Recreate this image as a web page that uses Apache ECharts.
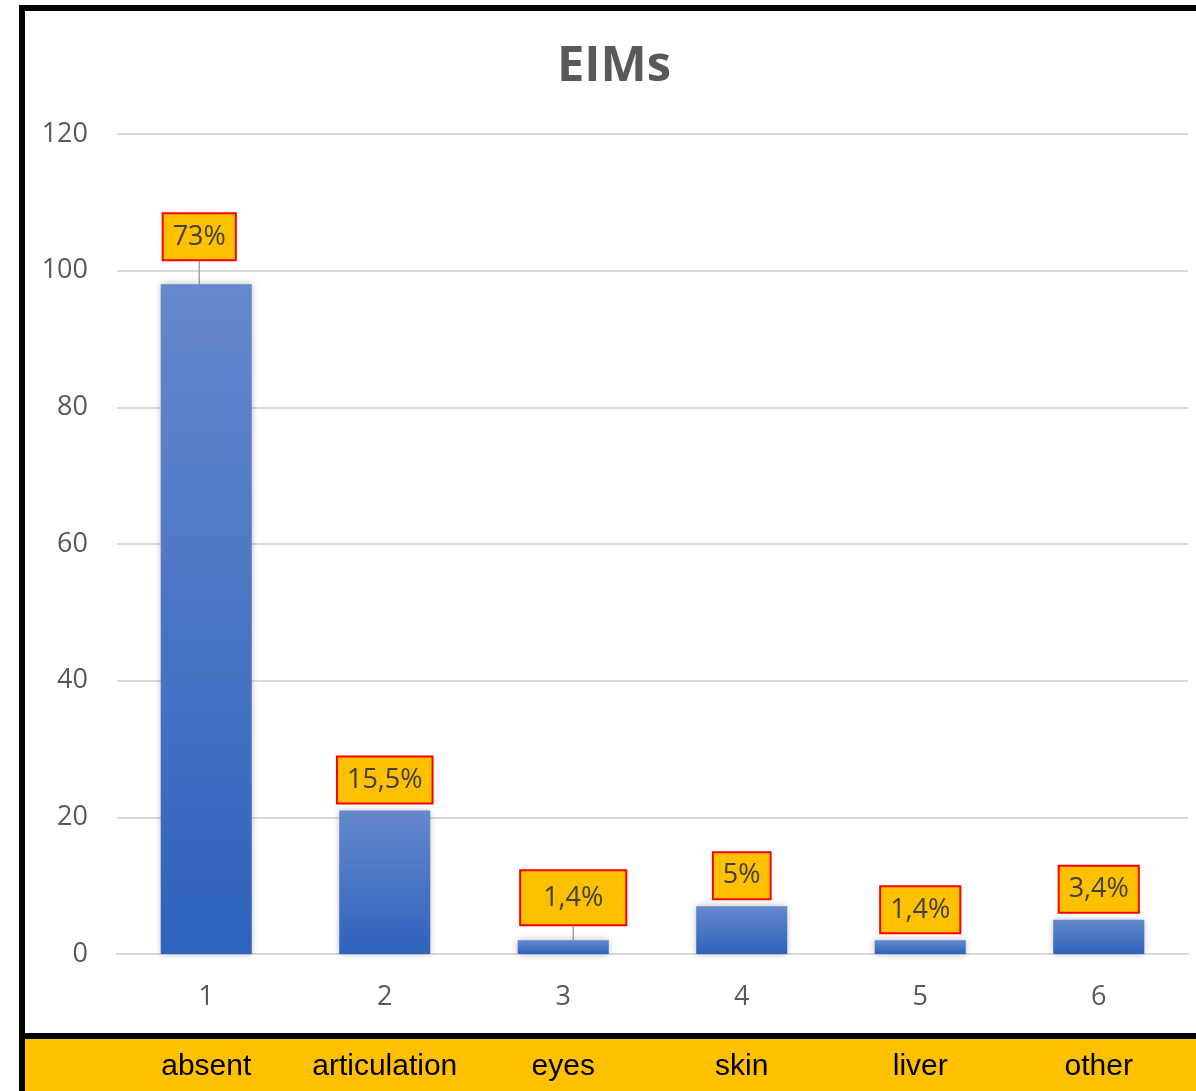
<!DOCTYPE html>
<html>
<head>
<meta charset="utf-8">
<script src="https://cdn.jsdelivr.net/npm/echarts@6/dist/echarts.min.js"></script>
<style>
html,body{margin:0;padding:0;background:#fff;}
#chart{width:1196px;height:1091px;}
</style>
</head>
<body>
<div id="chart"></div>
<script>
// ---- data ----
const categories = ['absent', 'articulation', 'eyes', 'skin', 'liver', 'other'];
const indexLabels = ['1', '2', '3', '4', '5', '6'];
const values = [98, 21, 2, 7, 2, 5];
const percentLabels = ['73%', '15,5%', '1,4%', '5%', '1,4%', '3,4%'];
const yTicks = { min: 0, max: 120, interval: 20 };

// ---- label tweaks (layout only) ----
const labelShift = { 0: [-7, -17], 2: [10, -8] };
const leaderLines = { 0: true, 2: true };

const chart = echarts.init(document.getElementById('chart'));

const seriesData = values.map((v, i) => {
  const item = { value: v, label: { formatter: percentLabels[i] } };
  if (i === 2) item.label.padding = [10, 22];
  if (leaderLines[i]) item.labelLine = { show: true, lineStyle: { color: '#A6A6A6', width: 1.5 } };
  return item;
});

const option = {
  backgroundColor: '#ffffff',
  animation: false,
  title: {
    text: 'EIMs',
    left: 614,
    textAlign: 'center',
    top: 38,
    padding: 0,
    textStyle: { fontFamily: 'Open Sans', fontWeight: 'bold', fontSize: 49, color: '#595959', lineHeight: 58 }
  },
  grid: { left: 117, right: 8, top: 134, bottom: 137, containLabel: false },
  xAxis: [
    {
      type: 'category',
      data: indexLabels,
      position: 'bottom',
      axisLine: { show: true, lineStyle: { color: '#D9D9D9', width: 2 } },
      axisTick: { show: false },
      axisLabel: { color: '#595959', fontSize: 27, fontFamily: 'Open Sans', margin: 30, interval: 0 }
    },
    {
      type: 'category',
      data: categories,
      position: 'bottom',
      offset: 90,
      axisLine: { show: false },
      axisTick: { show: false },
      axisLabel: { color: '#000000', fontSize: 30, fontFamily: 'Liberation Sans', margin: 8, interval: 0 }
    }
  ],
  yAxis: {
    type: 'value',
    min: yTicks.min,
    max: yTicks.max,
    interval: yTicks.interval,
    axisLine: { show: false },
    axisTick: { show: false },
    splitLine: { lineStyle: { color: '#D9D9D9', width: 2 } },
    axisLabel: { color: '#595959', fontSize: 27, fontFamily: 'Open Sans', margin: 29 }
  },
  series: [{
    type: 'bar',
    xAxisIndex: 0,
    data: seriesData,
    barWidth: '51%',
    itemStyle: {
      color: new echarts.graphic.LinearGradient(0, 0, 0, 1, [
        { offset: 0, color: '#6688CC' },
        { offset: 1, color: '#2E62BD' }
      ]),
      shadowBlur: 7,
      shadowColor: 'rgba(0,0,0,0.28)'
    },
    label: {
      show: true,
      position: 'top',
      distance: 8,
      backgroundColor: '#FFC000',
      borderColor: '#FF0000',
      borderWidth: 2,
      padding: [6, 9],
      lineHeight: 33,
      color: '#404040',
      fontSize: 27,
      fontFamily: 'Open Sans'
    },
    labelLayout: function (params) {
      const s = labelShift[params.dataIndex];
      return s ? { dx: s[0], dy: s[1] } : {};
    }
  }],
  graphic: [
    {
      type: 'rect', z: -10,
      shape: { x: 25, y: 1039, width: 1200, height: 60 },
      style: { fill: '#FFC000' }
    },
    {
      type: 'rect', z: 100,
      shape: { x: 22, y: 8, width: 1200, height: 1028 },
      style: { fill: null, stroke: '#000000', lineWidth: 6 }
    },
    {
      type: 'line', z: 100,
      shape: { x1: 22, y1: 1036, x2: 22, y2: 1095 },
      style: { stroke: '#000000', lineWidth: 6 }
    }
  ]
};

chart.setOption(option);
</script>
</body>
</html>
